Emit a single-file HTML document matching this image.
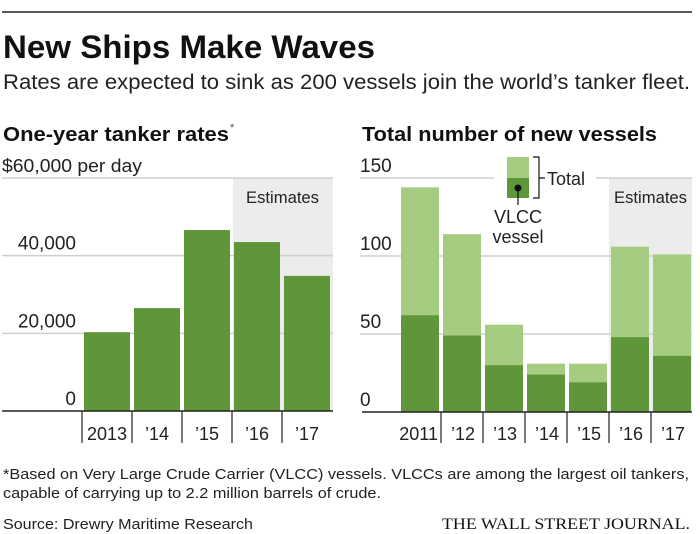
<!DOCTYPE html>
<html><head><meta charset="utf-8"><style>
body{margin:0;background:#fff;}
svg{display:block;font-family:"Liberation Sans",sans-serif;}
</style></head><body>
<svg width="700" height="534" viewBox="0 0 700 534">
<line x1="2" y1="12" x2="692" y2="12" stroke="#222" stroke-width="1.5"/>
<text x="3" y="58" font-size="32" font-weight="bold" fill="#111" textLength="372" lengthAdjust="spacingAndGlyphs">New Ships Make Waves</text>
<text x="3" y="89" font-size="21" fill="#222" textLength="687" lengthAdjust="spacingAndGlyphs">Rates are expected to sink as 200 vessels join the world’s tanker fleet.</text>
<text x="3" y="141" font-size="20" font-weight="bold" fill="#111" textLength="226" lengthAdjust="spacingAndGlyphs">One-year tanker rates</text>
<text x="230" y="131" font-size="11" fill="#555">*</text>
<text x="362" y="141" font-size="20" font-weight="bold" fill="#111" textLength="295" lengthAdjust="spacingAndGlyphs">Total number of new vessels</text>
<g id="left"></g>
<g id="right"></g>
<text x="3" y="479" font-size="15" fill="#222" textLength="686" lengthAdjust="spacingAndGlyphs">*Based on Very Large Crude Carrier (VLCC) vessels. VLCCs are among the largest oil tankers,</text>
<text x="3" y="498" font-size="15" fill="#222" textLength="378" lengthAdjust="spacingAndGlyphs">capable of carrying up to 2.2 million barrels of crude.</text>
<text x="3" y="529" font-size="15" fill="#222" textLength="250" lengthAdjust="spacingAndGlyphs">Source: Drewry Maritime Research</text>
<text x="690" y="529" font-size="16" text-anchor="end" fill="#111" font-family="Liberation Serif, serif" textLength="248" lengthAdjust="spacingAndGlyphs">THE WALL STREET JOURNAL.</text>
</svg>
<script>
const leftCats=["2013","’14","’15","’16","’17"];
const leftVals=[20300,26500,46600,43500,34800];
const leftTicks=[0,20000,40000];
const leftTickLabels=["0","20,000","40,000"];
const rightCats=["2011","’12","’13","’14","’15","’16","’17"];
const rightTotal=[144,114,56,31,31,106,101];
const rightVlcc=[62,49,30,24,19,48,36];
const rightTicks=[0,50,100,150];
const DARK="#5f963a",LIGHT="#a6cc82";
const NS="http://www.w3.org/2000/svg";
function mk(parent,tag,attrs,txt){const e=document.createElementNS(NS,tag);for(const k in attrs)e.setAttribute(k,attrs[k]);if(txt!=null)e.textContent=txt;parent.appendChild(e);return e;}
// left chart
const L=document.getElementById('left');
const ly=v=>411-(v/60000)*233;
let e;
e=mk(L,'rect',{x:233,y:178,width:100,height:233,fill:'#ececec'});


e=mk(L,'text',{x:246,y:203,'font-size':17,fill:'#222',textLength:73,lengthAdjust:'spacingAndGlyphs'},'Estimates');


[20000,40000,60000].forEach(t=>{e=mk(L,'line',{x1:2,x2:333,y1:ly(t),y2:ly(t),stroke:'#cfcfcf','stroke-width':1.5});

});
e=mk(L,'text',{x:2,y:172,'font-size':18,fill:'#222',textLength:140,lengthAdjust:'spacingAndGlyphs'},'$60,000 per day');


leftTicks.forEach((t,i)=>{e=mk(L,'text',{x:76,y:ly(t)-6,'font-size':19,fill:'#222','text-anchor':'end'},leftTickLabels[i]);

});
const lx=i=>84+i*50;
leftVals.forEach((v,i)=>{e=mk(L,'rect',{x:lx(i),y:ly(v),width:46,height:411-ly(v),fill:DARK});


e=mk(L,'line',{x1:lx(i)-2,x2:lx(i)-2,y1:411,y2:443,stroke:'#222','stroke-width':1.2});


e=mk(L,'text',{x:lx(i)+23,y:440,'font-size':18,fill:'#222','text-anchor':'middle'},leftCats[i]);

});
e=mk(L,'line',{x1:2,x2:333,y1:411,y2:411,stroke:'#222','stroke-width':1.5});


// right chart
const R=document.getElementById('right');
const ry=v=>412-(v/150)*234;
e=mk(R,'rect',{x:609,y:178,width:83,height:234,fill:'#ececec'});


e=mk(R,'text',{x:614,y:203,'font-size':17,fill:'#222',textLength:73,lengthAdjust:'spacingAndGlyphs'},'Estimates');


[50,100].forEach(t=>{e=mk(R,'line',{x1:360,x2:692,y1:ry(t),y2:ry(t),stroke:'#cfcfcf','stroke-width':1.5});

});
e=mk(R,'line',{x1:360,x2:494,y1:ry(150),y2:ry(150),stroke:'#cfcfcf','stroke-width':1.5});


e=mk(R,'line',{x1:596,x2:692,y1:ry(150),y2:ry(150),stroke:'#cfcfcf','stroke-width':1.5});


rightTicks.forEach(t=>{e=mk(R,'text',{x:360,y:ry(t)-6,'font-size':19,fill:'#222'},String(t));

});
const rx=i=>401+i*42;
rightCats.forEach((c,i)=>{
e=mk(R,'rect',{x:rx(i),y:ry(rightTotal[i]),width:38,height:412-ry(rightTotal[i]),fill:LIGHT});


e=mk(R,'rect',{x:rx(i),y:ry(rightVlcc[i]),width:38,height:412-ry(rightVlcc[i]),fill:DARK});


if(i>0){e=mk(R,'line',{x1:rx(i)-2,x2:rx(i)-2,y1:412,y2:443,stroke:'#222','stroke-width':1.2});

}
e=mk(R,'text',{x:i==0?rx(i)+37:rx(i)+20,y:440,'font-size':18,fill:'#222','text-anchor':i==0?'end':'middle'},c);

});
e=mk(R,'line',{x1:362,x2:692,y1:412,y2:412,stroke:'#222','stroke-width':1.5});


// legend
e=mk(R,'rect',{x:507,y:157,width:22,height:21,fill:LIGHT});


e=mk(R,'rect',{x:507,y:178,width:22,height:20,fill:DARK});


e=mk(R,'circle',{cx:518,cy:188,r:3.5,fill:'#111'});


e=mk(R,'line',{x1:518,x2:518,y1:188,y2:205,stroke:'#111','stroke-width':1.2});


e=mk(R,'path',{d:'M533 157 H539 V198 H533 M539 178 H545',fill:'none',stroke:'#111','stroke-width':1.2});


e=mk(R,'text',{x:547,y:185,'font-size':18,fill:'#222'},'Total');


e=mk(R,'text',{x:518,y:223,'font-size':18,fill:'#222','text-anchor':'middle'},'VLCC');


e=mk(R,'text',{x:518,y:243,'font-size':18,fill:'#222','text-anchor':'middle'},'vessel');


</script>
</body></html>
